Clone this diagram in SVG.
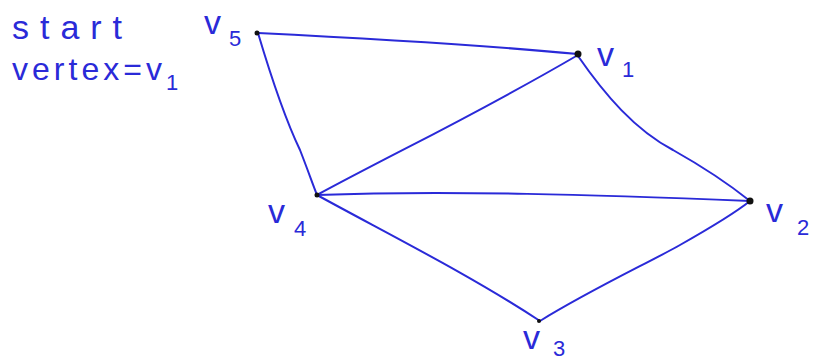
<svg xmlns="http://www.w3.org/2000/svg" width="822" height="361" viewBox="0 0 822 361">
<style>
.e{fill:none;stroke:#2a2ad8;stroke-width:2;stroke-linecap:round;stroke-linejoin:round}
.t{font-family:"Liberation Sans",Arial,sans-serif;fill:#2a2ad8}
.v{font-size:34px}
.s{font-size:22px}
.d{fill:#111}
</style>
<rect width="822" height="361" fill="#fff"/>
<g id="caption">
<text class="t" x="12" y="39" font-size="34" textLength="110" lengthAdjust="spacing">start</text>
<text class="t" x="12" y="80" font-size="32" textLength="150" lengthAdjust="spacing">vertex=v</text>
<text class="t" x="166" y="90" font-size="22">1</text>
</g>
<g id="connectors">
<path class="e" d="M258,33 C360,38 470,44 578,54"/>
<path class="e" d="M258,33 C272,80 288,125 300,150 C307,168 312,182 317,195"/>
<path class="e" d="M317,195 C400,150 470,118 578,55"/>
<path class="e" d="M578,56 C605,95 635,130 673,150 C705,168 730,185 750,201"/>
<path class="e" d="M317,195 C450,190 600,195 750,201"/>
<path class="e" d="M317,195 C390,235 470,275 540,321"/>
<path class="e" d="M540,321 C590,290 650,262 680,245 C710,228 735,213 750,201"/>
</g>
<g id="v5">
<circle class="d" cx="257" cy="33" r="2.5"/>
<text class="t v" x="204" y="34">v</text>
<text class="t s" x="229" y="46">5</text>
</g>
<g id="v1">
<circle class="d" cx="578" cy="54" r="3.5"/>
<text class="t v" x="597" y="66">v</text>
<text class="t s" x="622" y="77">1</text>
</g>
<g id="v4">
<circle class="d" cx="317" cy="195" r="2.5"/>
<text class="t v" x="268" y="223">v</text>
<text class="t s" x="294" y="236">4</text>
</g>
<g id="v2">
<circle class="d" cx="750" cy="201" r="3.5"/>
<text class="t v" x="766" y="222">v</text>
<text class="t s" x="797" y="235">2</text>
</g>
<g id="v3">
<circle class="d" cx="539" cy="321" r="2"/>
<text class="t v" x="523" y="349">v</text>
<text class="t s" x="553" y="356">3</text>
</g>
</svg>
